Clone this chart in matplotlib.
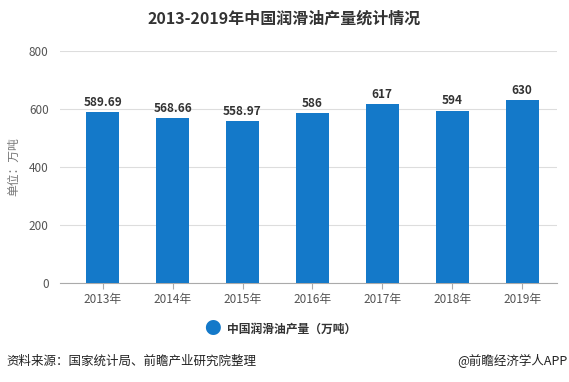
import matplotlib.pyplot as plt
import numpy as np

plt.rcParams['font.family'] = ['Noto Sans CJK SC', 'DejaVu Sans']

years = ['2013年', '2014年', '2015年', '2016年', '2017年', '2018年', '2019年']
output = [589.69, 568.66, 558.97, 586, 617, 594, 630]
labels = ['589.69', '568.66', '558.97', '586', '617', '594', '630']

fig = plt.figure(figsize=(5.69, 3.82), dpi=100)
ax = fig.add_axes([0.105, 0.259, 0.874, 0.607])

x = np.arange(len(years))
ax.bar(x, output, width=0.473, color='#1479c9', zorder=3)
for xi, v, t in zip(x, output, labels):
    ax.text(xi, v + 12, t, ha='center', va='bottom', fontsize=8.5,
            fontweight='bold', color='#333333')

ax.set_xlim(-0.615, len(years) - 0.5)
ax.set_ylim(0, 800)
ax.set_yticks([0, 200, 400, 600, 800])
ax.set_xticks(x)
ax.set_xticklabels(years)
ax.tick_params(axis='y', length=0, labelsize=8.5, colors='#555555', pad=8)
ax.tick_params(axis='x', length=4, labelsize=8.5, colors='#555555',
               direction='out')
ax.tick_params(axis='x', color='#aaaaaa')
ax.grid(axis='y', color='#dddddd', linewidth=0.8, zorder=0)
for s in ['top', 'right', 'left']:
    ax.spines[s].set_visible(False)
ax.spines['bottom'].set_color('#aaaaaa')
ax.set_ylabel('单位：万吨', fontsize=8.5, color='#777777', labelpad=6)

fig.text(0.5, 0.952, '2013-2019年中国润滑油产量统计情况', ha='center',
         va='center', fontsize=11.5, fontweight='bold', color='#333333')

# legend
fig.text(0.374, 0.138, '●', ha='center', va='center', fontsize=12,
         color='#1479c9')
fig.text(0.399, 0.138, '中国润滑油产量（万吨）', ha='left', va='center',
         fontsize=8.5, fontweight='bold', color='#333333')

fig.text(0.012, 0.055, '资料来源：国家统计局、前瞻产业研究院整理', ha='left',
         va='center', fontsize=9, color='#222222')
fig.text(0.997, 0.055, '@前瞻经济学人APP', ha='right', va='center',
         fontsize=9, color='#222222')

fig.savefig('out.png', dpi=100)
